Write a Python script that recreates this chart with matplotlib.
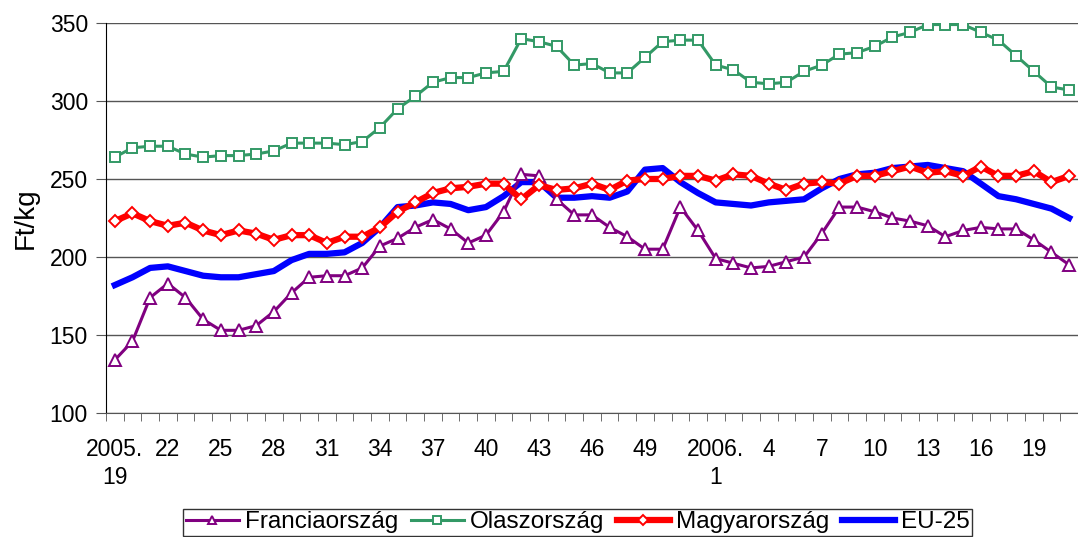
import matplotlib.pyplot as plt
import numpy as np

plt.rcParams['font.family'] = ['Liberation Sans', 'DejaVu Sans']

# Hetek: 2005. 19. hét - 2006. 21. hét
weeks = list(range(19, 53)) + list(range(1, 22))

# Címkék csak minden 3. hétnél (év elején újrakezdve)
label_pos = [0, 3, 6, 9, 12, 15, 18, 21, 24, 27, 30, 34, 37, 40, 43, 46, 49, 52]
label_txt = ['2005.\n19', '22', '25', '28', '31', '34', '37', '40', '43', '46', '49',
             '2006.\n1', '4', '7', '10', '13', '16', '19']

francia = [134, 146, 174, 183, 174, 160, 153, 153, 156, 165, 177, 187, 188, 188,
           193, 207, 212, 219, 224, 218, 209, 214, 229, 253, 252, 237, 227, 227,
           219, 213, 205, 205, 232, 217, 199, 196, 193, 194, 197, 200, 215, 232,
           232, 229, 225, 223, 220, 213, 217, 219, 218, 218, 211, 203, 195]
olasz = [264, 270, 271, 271, 266, 264, 265, 265, 266, 268, 273, 273, 273, 272,
         274, 283, 295, 303, 312, 315, 315, 318, 319, 340, 338, 335, 323, 324,
         318, 318, 328, 338, 339, 339, 323, 320, 312, 311, 312, 319, 323, 330,
         331, 335, 341, 344, 349, 349, 349, 344, 339, 329, 319, 309, 307]
magyar = [223, 228, 223, 220, 222, 217, 214, 217, 215, 211, 214, 214, 209, 213,
          213, 219, 229, 235, 241, 244, 245, 247, 247, 237, 246, 243, 244, 247,
          243, 249, 250, 250, 252, 252, 249, 253, 252, 247, 243, 247, 248, 247,
          252, 252, 255, 258, 254, 255, 252, 258, 252, 252, 255, 248, 252]
eu25 = [182, 187, 193, 194, 191, 188, 187, 187, 189, 191, 198, 202, 202, 203,
        209, 219, 232, 233, 235, 234, 230, 232, 239, 248, 248, 238, 238, 239,
        238, 242, 256, 257, 248, 241, 235, 234, 233, 235, 236, 237, 244, 250,
        253, 254, 257, 258, 259, 257, 255, 247, 239, 237, 234, 231, 225]

x = np.arange(len(weeks))

fig = plt.figure(figsize=(10.78, 5.37), dpi=100)
ax = fig.add_axes([0.0983, 0.2309, 0.9017, 0.7263])

ax.plot(x, eu25, color='#0000ff', lw=4.5, label='EU-25', zorder=2)
ax.plot(x, francia, color='#800080', lw=2.2, marker='^', ms=8.5, mfc='white',
        mec='#800080', mew=1.4, label='Franciaország', zorder=3)
ax.plot(x, olasz, color='#339966', lw=2.2, marker='s', ms=7, mfc='white',
        mec='#339966', mew=1.4, label='Olaszország', zorder=3)
ax.plot(x, magyar, color='#ff0000', lw=4.5, marker='D', ms=6.5, mfc='white',
        mec='#ff0000', mew=1.4, label='Magyarország', zorder=4)

ax.set_xlim(-0.5, len(weeks) - 0.5)
ax.set_ylim(100, 350)
ax.set_yticks([100, 150, 200, 250, 300, 350])
ax.yaxis.grid(True, color='#555555', lw=1)
ax.set_axisbelow(True)

ax.set_xticks(np.arange(len(weeks) + 1) - 0.5, minor=True)
ax.set_xticks(label_pos)
ax.set_xticklabels(label_txt, fontsize=16.5, linespacing=1.3)
ax.tick_params(axis='x', which='major', length=0, pad=18)
ax.tick_params(axis='x', which='minor', length=6, direction='out', color='#555555')
ax.tick_params(axis='y', labelsize=16.5, length=7, pad=6, color='#555555')

ax.set_ylabel('Ft/kg', fontsize=20)
ax.yaxis.set_label_coords(-0.069, 0.5)

for s in ['top', 'right']:
    ax.spines[s].set_visible(False)
ax.spines['left'].set_color('black')
ax.spines['bottom'].set_color('#555555')

h, l = ax.get_legend_handles_labels()
order = [1, 2, 3, 0]
leg = fig.legend([h[i] for i in order], [l[i] for i in order], loc='lower center',
                 bbox_to_anchor=(0.536, 0.0), ncol=4, fontsize=17.5, frameon=True,
                 fancybox=False, edgecolor='black', handlelength=2.2,
                 columnspacing=0.5, handletextpad=0.25, borderpad=0.1,
                 borderaxespad=0.05, markerscale=0.75)
leg.get_frame().set_linewidth(1)

fig.savefig('out.png', dpi=100)
